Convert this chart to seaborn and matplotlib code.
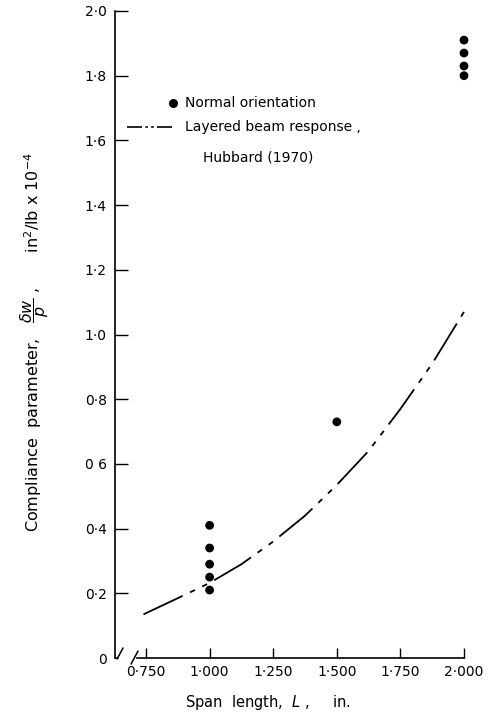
import matplotlib
matplotlib.use("Agg")
import matplotlib.pyplot as plt
import seaborn as sns
import pandas as pd

# ---- data ----
span_pts = [1.0, 1.0, 1.0, 1.0, 1.0, 1.5, 2.0, 2.0, 2.0, 2.0]
compliance_pts = [0.41, 0.34, 0.29, 0.25, 0.21, 0.73, 1.91, 1.87, 1.83, 1.80]

curve_span = [0.74, 0.875, 1.0, 1.125, 1.25, 1.375, 1.5, 1.625, 1.75, 1.875, 2.0]
curve_compliance = [0.135, 0.185, 0.232, 0.29, 0.36, 0.44, 0.535, 0.64, 0.77, 0.91, 1.07]

xticks = [0.75, 1.0, 1.25, 1.5, 1.75, 2.0]
xtick_labels = ["0·750", "1·000", "1·250", "1·500", "1·750", "2·000"]
yticks = [0, 0.2, 0.4, 0.6, 0.8, 1.0, 1.2, 1.4, 1.6, 1.8, 2.0]
ytick_labels = ["0", "0·2", "0·4", "0 6", "0·8", "1·0", "1·2", "1·4", "1·6", "1·8", "2·0"]

pts = pd.DataFrame({"span": span_pts, "compliance": compliance_pts})
curve = pd.DataFrame({"span": curve_span, "compliance": curve_compliance})

sns.set_style("ticks")
plt.rcParams["font.family"] = ["DejaVu Sans"]
plt.rcParams["text.color"] = "black"
plt.rcParams["axes.labelcolor"] = "black"
plt.rcParams["xtick.color"] = "black"
plt.rcParams["ytick.color"] = "black"

fig = plt.figure(figsize=(4.92, 7.19), dpi=100)
ax = fig.add_axes([115 / 492, 1 - 658 / 719, 349 / 492, 647 / 719])

dash = (0, (24, 4.5, 3, 4.5, 3, 4.5))
sns.lineplot(data=curve, x="span", y="compliance", ax=ax, color="black",
             lw=1.3, linestyle=dash, sort=False, clip_on=False)
sns.scatterplot(data=pts, x="span", y="compliance", ax=ax, color="black",
                s=40, edgecolor="none", clip_on=False, zorder=3)

ax.set_xlim(0.628, 2.0)
ax.set_ylim(0, 2.0)
ax.set_xticks(xticks)
ax.set_xticklabels(xtick_labels)
ax.set_yticks(yticks)
ax.set_yticklabels(ytick_labels)
ax.set_xlabel("")
ax.set_ylabel("")

for s in ("top", "right"):
    ax.spines[s].set_visible(False)
for s in ("left", "bottom"):
    ax.spines[s].set_linewidth(1.2)
    ax.spines[s].set_color("black")
ax.spines["bottom"].set_bounds(0.714, 2.0)
ax.spines["left"].set_bounds(0, 2.0)

ax.tick_params(axis="x", direction="in", length=7.5, width=1.0, pad=5,
               labelsize=10, colors="black")
ax.tick_params(axis="y", direction="in", length=9.5, width=1.0, pad=6,
               labelsize=10, colors="black")
ax.yaxis.get_major_ticks()[0].tick1line.set_visible(False)

# axis break marks
brk = dict(color="black", lw=1.1, transform=ax.transAxes, clip_on=False)
ax.plot([0.0, 0.008], [0.0, 0.0], **brk)
ax.plot([0.006, 0.023], [-0.0015, 0.0155], **brk)
ax.plot([0.046, 0.066], [-0.0093, 0.0108], **brk)

# legend (drawn as text keys)
ax.plot([0.166], [0.858], marker="o", ms=5.5, color="black",
        transform=ax.transAxes, clip_on=False)
ax.text(0.2006, 0.858, "Normal orientation", transform=ax.transAxes,
        fontsize=10, va="center", ha="left")
ax.plot([0.034, 0.163], [0.821, 0.821], color="black", lw=1.2,
        linestyle=(0, (9, 2, 1.5, 2, 1.5, 2)), transform=ax.transAxes,
        clip_on=False)
ax.text(0.2006, 0.820, "Layered beam response ,", transform=ax.transAxes,
        fontsize=10, va="center", ha="left")
ax.text(0.252, 0.774, "Hubbard (1970)", transform=ax.transAxes,
        fontsize=10, va="center", ha="left")

fig.text(35 / 492, 1 - 342 / 719,
         r"Compliance  parameter,   $\dfrac{\delta w}{p}$ ,       in$^2$/lb x 10$^{-4}$",
         rotation=90, ha="center", va="center", fontsize=11.5)
fig.text(268 / 492, 1 - 702 / 719, r"Span  length,  $L$ ,     in.",
         ha="center", va="center", fontsize=10.5)

fig.savefig("out.png", dpi=100)
